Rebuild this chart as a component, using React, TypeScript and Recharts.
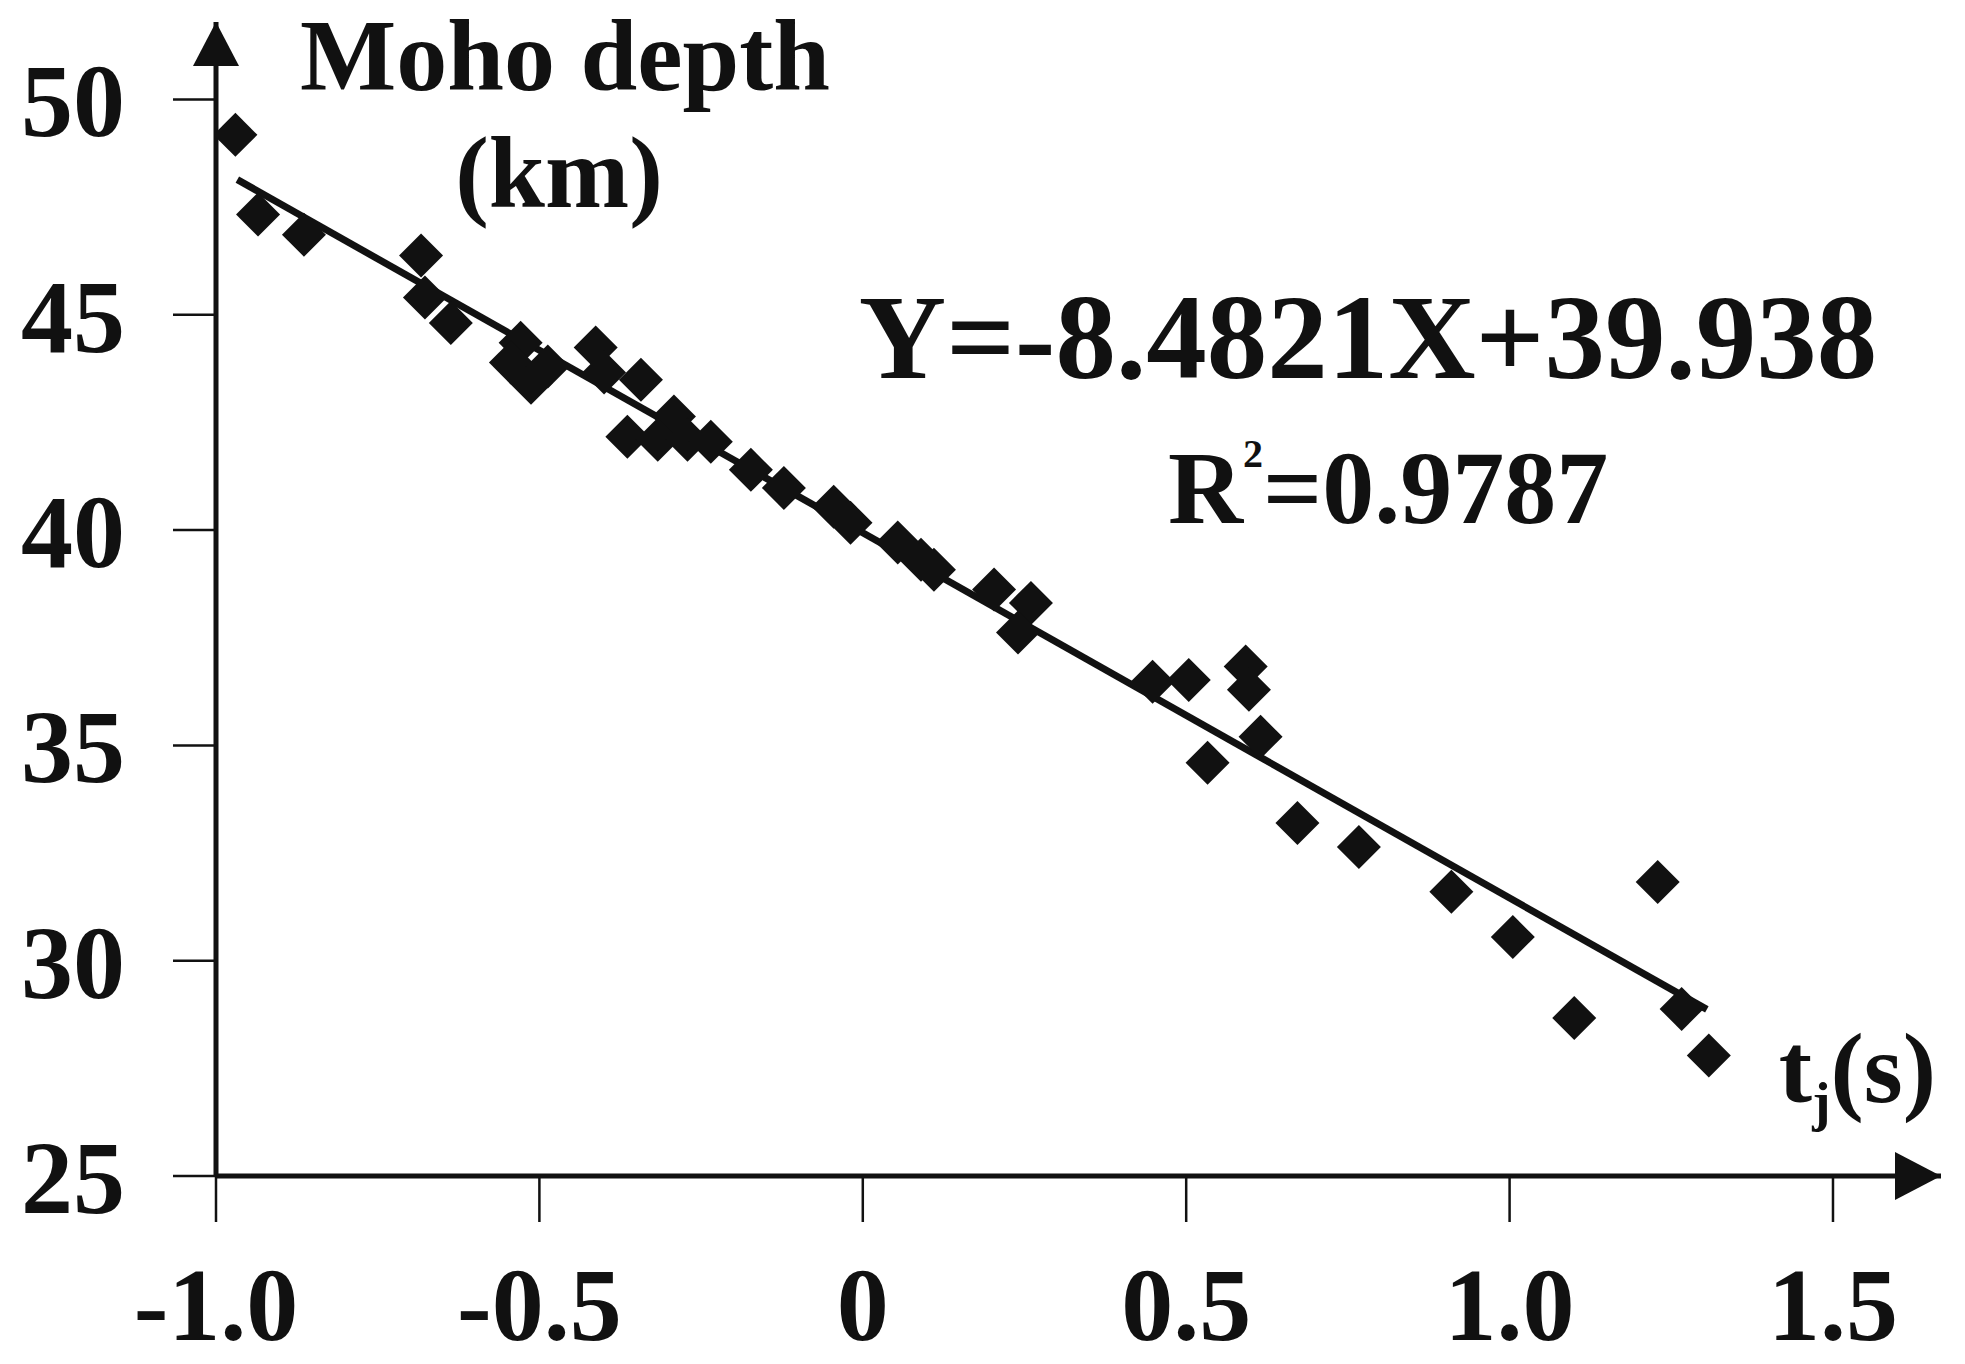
import React from 'react';
import { ScatterChart, Scatter, XAxis, YAxis, ReferenceDot, ReferenceLine } from 'recharts';

// travel-time residual (s) vs Moho depth (km)
const tjValues = [
  -0.970, -0.935, -0.864, -0.683, -0.677, -0.637, -0.529, -0.544, -0.513, -0.487,
  -0.413, -0.400, -0.343, -0.364, -0.292, -0.317, -0.271, -0.235, -0.173, -0.122,
  -0.045, -0.019, 0.054, 0.090, 0.110, 0.203, 0.260, 0.240, 0.448, 0.504,
  0.592, 0.597, 0.615, 0.533, 0.672, 0.767, 0.910, 1.005, 1.100, 1.229,
  1.266, 1.308,
];
const mohoDepths = [
  49.18, 47.33, 46.86, 46.38, 45.40, 44.81, 44.35, 43.89, 43.42, 43.80,
  44.24, 43.66, 43.49, 42.17, 42.64, 42.10, 42.10, 42.05, 41.40, 40.98,
  40.54, 40.17, 39.71, 39.31, 39.08, 38.62, 38.31, 37.62, 36.48, 36.52,
  36.83, 36.29, 35.20, 34.60, 33.20, 32.64, 31.60, 30.55, 28.67, 31.83,
  28.88, 27.80,
];

// regression printed on the figure
const SLOPE = -8.4821;
const INTERCEPT = 39.938;
const fitRange = [-0.967, 1.305];

const xTicks = [-1, -0.5, 0, 0.5, 1, 1.5];
const xTickLabels = ['-1.0', '-0.5', '0', '0.5', '1.0', '1.5'];
const yTicks = [25, 30, 35, 40, 45, 50];

const X_MIN = -1;
const X_MAX = 1.667;
const Y_MIN = 25;
const Y_MAX = 51.8;

const points = tjValues.map((x, i) => ({ x, y: mohoDepths[i] }));
const fitLine = fitRange.map((x) => ({ x, y: SLOPE * x + INTERCEPT }));

const FONT = '"Liberation Serif", "Times New Roman", serif';
const INK = '#111';

const Diamond = (props: any) => {
  const { cx, cy } = props;
  const r = 22;
  return (
    <polygon
      points={`${cx},${cy - r} ${cx + r},${cy} ${cx},${cy + r} ${cx - r},${cy}`}
      fill={INK}
    />
  );
};

const RightArrow = (props: any) => {
  const { cx, cy } = props;
  return <polygon points={`${cx},${cy} ${cx - 46},${cy - 24} ${cx - 46},${cy + 24}`} fill={INK} />;
};

const UpArrow = (props: any) => {
  const { cx, cy } = props;
  return <polygon points={`${cx},${cy} ${cx - 23},${cy + 44} ${cx + 23},${cy + 44}`} fill={INK} />;
};

// fit line drawn as a filled band so its thickness is independent of stroke handling
const FitSegment = (props: any) => {
  const { x1, y1, x2, y2 } = props;
  const w = 3.5;
  const len = Math.hypot(x2 - x1, y2 - y1) || 1;
  const nx = (-(y2 - y1) / len) * w;
  const ny = ((x2 - x1) / len) * w;
  return (
    <polygon
      points={`${x1 + nx},${y1 + ny} ${x2 + nx},${y2 + ny} ${x2 - nx},${y2 - ny} ${x1 - nx},${y1 - ny}`}
      fill={INK}
    />
  );
};

const App: React.FC = () => {
  return (
    <div style={{ position: 'absolute', left: 0, top: 0, width: 1965, height: 1364, background: '#fff' }}>
      <ScatterChart
        width={1965}
        height={1364}
        margin={{ top: 22, right: 24, bottom: 0, left: 0 }}
      >
        <XAxis
          type="number"
          dataKey="x"
          domain={[X_MIN, X_MAX]}
          ticks={xTicks}
          tickFormatter={(v: number) => xTickLabels[xTicks.indexOf(v)] ?? String(v)}
          height={188}
          tickSize={46}
          tickMargin={44}
          axisLine={{ stroke: INK, strokeWidth: 5 }}
          tickLine={{ stroke: INK, strokeWidth: 2.5 }}
          tick={{ fill: INK, fontSize: 104, fontFamily: FONT, fontWeight: 'bold' }}
          allowDataOverflow
        />
        <YAxis
          type="number"
          dataKey="y"
          domain={[Y_MIN, Y_MAX]}
          ticks={yTicks}
          width={216}
          tickSize={43}
          tickMargin={48}
          axisLine={{ stroke: INK, strokeWidth: 5 }}
          tickLine={{ stroke: INK, strokeWidth: 2.5 }}
          tick={{ fill: INK, fontSize: 104, fontFamily: FONT, fontWeight: 'bold' }}
          allowDataOverflow
        />
        <Scatter data={points} shape={<Diamond />} isAnimationActive={false} />
        <ReferenceLine
          segment={fitLine}
          stroke={INK}
          ifOverflow="visible"
          shape={<FitSegment />}
        />
        <ReferenceDot x={X_MAX} y={Y_MIN} shape={<RightArrow />} />
        <ReferenceDot x={X_MIN} y={Y_MAX} shape={<UpArrow />} />
      </ScatterChart>
      <svg
        width={1965}
        height={1364}
        style={{ position: 'absolute', left: 0, top: 0, pointerEvents: 'none' }}
      >
        <g fontFamily={FONT} fontWeight="bold" fill={INK}>
          <text x={565} y={90} fontSize={102} textAnchor="middle">Moho depth</text>
          <text x={559} y={207} fontSize={101} textAnchor="middle">(km)</text>
          <text x={1368} y={378} fontSize={121} textAnchor="middle">Y=-8.4821X+39.938</text>
          <text x={1168} y={523} fontSize={104}>
            R<tspan fontSize={40} dy={-56}>2</tspan>
            <tspan dy={56}>=0.9787</tspan>
          </text>
          <text x={1936} y={1102} fontSize={100} textAnchor="end">
            t<tspan fontSize={55} dy={18}>j</tspan>
            <tspan dy={-18}>(s)</tspan>
          </text>
        </g>
      </svg>
    </div>
  );
};

export default App;
